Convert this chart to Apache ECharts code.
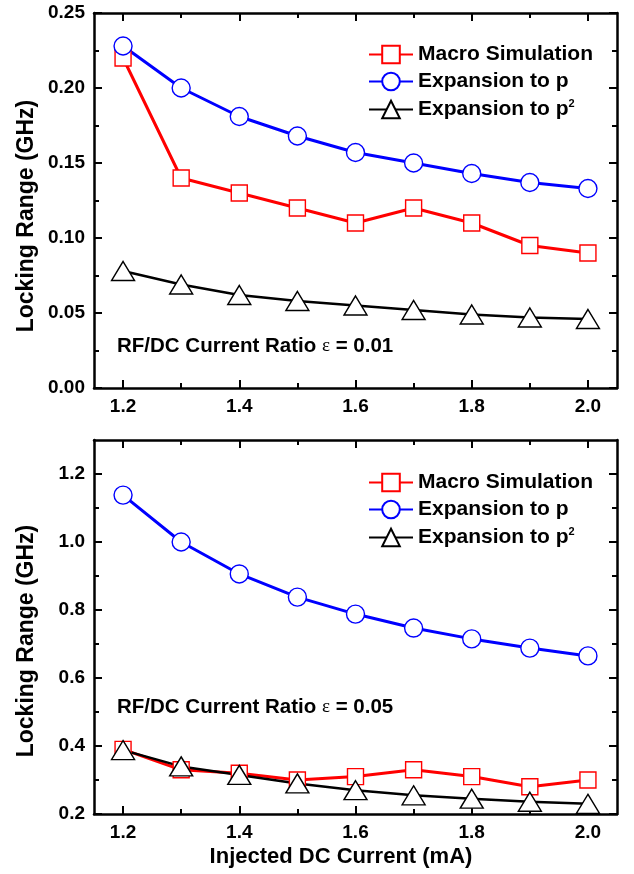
<!DOCTYPE html>
<html>
<head>
<meta charset="utf-8">
<script src="https://cdn.jsdelivr.net/npm/echarts@6/dist/echarts.min.js"></script>
<style>
  html, body { margin: 0; padding: 0; background: #fff; }
  #chart { width: 634px; height: 874px; }
</style>
</head>
<body>
<div id="chart"></div>
<script>
// injected DC current (mA)
var xValues = [1.2, 1.3, 1.4, 1.5, 1.6, 1.7, 1.8, 1.9, 2.0];

// eps = 0.01 (top)
var topMacro = [0.22, 0.14, 0.13, 0.12, 0.11, 0.12, 0.11, 0.095, 0.09];
var topExpP  = [0.228, 0.200, 0.181, 0.168, 0.157, 0.150, 0.143, 0.137, 0.133];
var topExpP2 = [0.078, 0.069, 0.062, 0.058, 0.055, 0.052, 0.049, 0.047, 0.046];

// eps = 0.05 (bottom)
var botMacro = [0.39, 0.33, 0.32, 0.30, 0.31, 0.33, 0.31, 0.28, 0.30];
var botExpP  = [1.138, 1.000, 0.906, 0.838, 0.788, 0.747, 0.715, 0.688, 0.665];
var botExpP2 = [0.388, 0.340, 0.315, 0.290, 0.270, 0.255, 0.245, 0.236, 0.230];

// ticks
var xLabelValues = [1.2, 1.4, 1.6, 1.8, 2.0];
var xMinorValues = [1.3, 1.5, 1.7, 1.9];
var topYLabels = [0, 0.05, 0.10, 0.15, 0.20, 0.25];
var topYMinor = [0.025, 0.075, 0.125, 0.175, 0.225];
var botYLabels = [0.2, 0.4, 0.6, 0.8, 1.0, 1.2];
var botYMinor = [0.3, 0.5, 0.7, 0.9, 1.1];

var names = ['Macro Simulation', 'Expansion to p', 'Expansion to p^2'];
var FONT = 'Liberation Sans, Arial, sans-serif';

function pairs(ys) {
    return xValues.map(function (x, i) { return [x, ys[i]]; });
}

// one visible axis + ticks, built several times per grid
function makeAxis(grid, pos, min, max, ticks, len, labels, digits, line) {
    var ax = {
        type: 'value', gridIndex: grid, position: pos, min: min, max: max,
        axisLine: { show: line, onZero: false, lineStyle: { color: '#000', width: 2.5 } },
        axisTick: { show: true, inside: true, length: len, customValues: ticks,
            lineStyle: { color: '#000', width: 2 } },
        axisLabel: { show: false },
        splitLine: { show: false }
    };
    if (labels) {
        ax.axisLabel = {
            show: true, customValues: labels, margin: 9,
            color: '#000', fontSize: 19, fontWeight: 'bold', fontFamily: FONT,
            formatter: function (v) { return v.toFixed(digits); }
        };
    }
    return ax;
}

var xAxes = [], yAxes = [];
[0, 1].forEach(function (g) {
    xAxes.push(makeAxis(g, 'bottom', 1.15, 2.05, xLabelValues, 8, xLabelValues, 1, true));
    xAxes.push(makeAxis(g, 'bottom', 1.15, 2.05, xMinorValues, 5, null, 1, false));
    xAxes.push(makeAxis(g, 'top', 1.15, 2.05, xLabelValues, 8, null, 1, true));
    xAxes.push(makeAxis(g, 'top', 1.15, 2.05, xMinorValues, 5, null, 1, false));
});
yAxes.push(makeAxis(0, 'left', 0, 0.25, topYLabels, 8, topYLabels, 2, true));
yAxes.push(makeAxis(0, 'left', 0, 0.25, topYMinor, 5, null, 2, false));
yAxes.push(makeAxis(0, 'right', 0, 0.25, topYLabels, 8, null, 2, true));
yAxes.push(makeAxis(0, 'right', 0, 0.25, topYMinor, 5, null, 2, false));
yAxes.push(makeAxis(1, 'left', 0.2, 1.3, botYLabels, 8, botYLabels, 1, true));
yAxes.push(makeAxis(1, 'left', 0.2, 1.3, botYMinor, 5, null, 1, false));
yAxes.push(makeAxis(1, 'right', 0.2, 1.3, botYLabels, 8, null, 1, true));
yAxes.push(makeAxis(1, 'right', 0.2, 1.3, botYMinor, 5, null, 1, false));

var styles = [
    { color: '#ff0000', symbol: 'rect', size: 16, width: 3 },
    { color: '#0000ff', symbol: 'circle', size: 18, width: 3 },
    { color: '#000000', symbol: 'triangle', size: [23, 19], width: 2.5 }
];

function makeSeries(grid, idx, data) {
    var s = styles[idx];
    return {
        type: 'line', name: names[idx],
        xAxisIndex: grid * 4, yAxisIndex: grid * 4,
        data: pairs(data),
        symbol: s.symbol, symbolSize: s.size, showAllSymbol: true,
        lineStyle: { color: s.color, width: s.width },
        itemStyle: { color: '#fff', borderColor: s.color, borderWidth: 1.4 },
        emphasis: { disabled: true }
    };
}

function makeLegend(top) {
    return {
        orient: 'vertical', left: 363, top: top,
        itemWidth: 44, itemHeight: 22, itemGap: 6,
        data: names,
        formatter: function (name) {
            if (name === 'Expansion to p^2') return '{t|Expansion to p}{s|2}';
            return '{t|' + name + '}';
        },
        textStyle: {
            color: '#000',
            rich: {
                t: { fontSize: 21, fontWeight: 'bold', fontFamily: FONT, color: '#000' },
                s: { fontSize: 11, fontWeight: 'bold', fontFamily: FONT, color: '#000',
                     verticalAlign: 'top', padding: [0, 0, 12, 0] }
            }
        }
    };
}

function ratioText(y, eps) {
    return {
        type: 'text', x: 117, y: y,
        style: {
            text: '{b|RF/DC Current Ratio }{e|ε}{b| = ' + eps + '}',
            textVerticalAlign: 'middle',
            rich: {
                b: { fontSize: 20.5, fontWeight: 'bold', fontFamily: FONT, fill: '#000' },
                e: { fontSize: 19, fontFamily: 'Liberation Serif, serif', fill: '#000' }
            }
        }
    };
}

function yTitle(y) {
    return {
        type: 'text', x: 27, y: y, rotation: Math.PI / 2,
        style: {
            text: 'Locking Range (GHz)', fill: '#000',
            font: 'bold 23px ' + FONT,
            textAlign: 'center', textVerticalAlign: 'middle'
        }
    };
}

var chart = echarts.init(document.getElementById('chart'), null, { renderer: 'canvas' });
chart.setOption({
    animation: false,
    backgroundColor: '#fff',
    grid: [
        { left: 94, top: 13, width: 523, height: 375 },
        { left: 94, top: 440, width: 523, height: 374 }
    ],
    xAxis: xAxes,
    yAxis: yAxes,
    legend: [makeLegend(39), makeLegend(467)],
    series: [
        makeSeries(0, 0, topMacro),
        makeSeries(0, 1, topExpP),
        makeSeries(0, 2, topExpP2),
        makeSeries(1, 0, botMacro),
        makeSeries(1, 1, botExpP),
        makeSeries(1, 2, botExpP2)
    ],
    graphic: [
        ratioText(346, '0.01'),
        ratioText(707, '0.05'),
        yTitle(216),
        yTitle(641),
        {
            type: 'text', x: 341, y: 857,
            style: {
                text: 'Injected DC Current (mA)', fill: '#000',
                font: 'bold 22px ' + FONT,
                textAlign: 'center', textVerticalAlign: 'middle'
            }
        }
    ]
});
</script>
</body>
</html>
